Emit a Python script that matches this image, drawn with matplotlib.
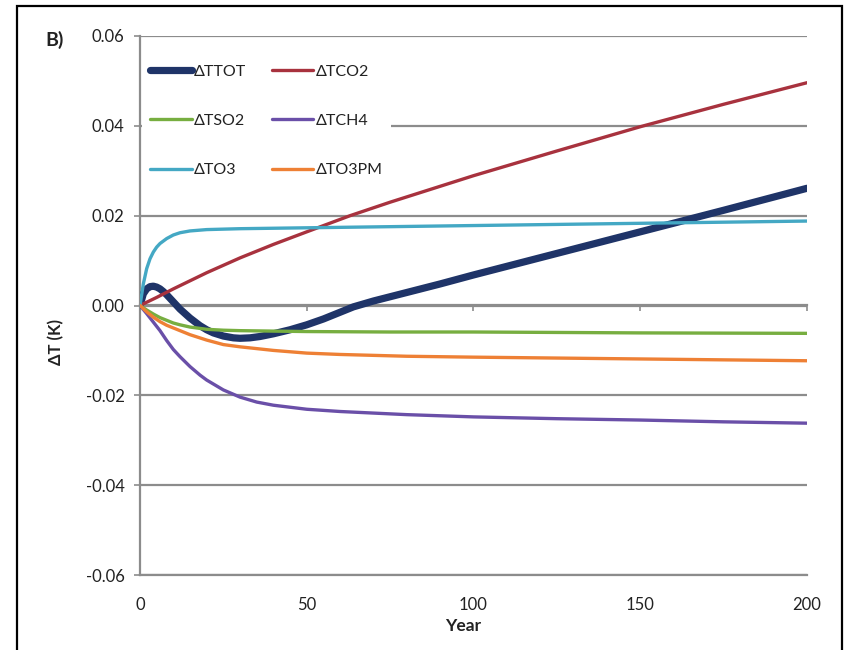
import matplotlib
matplotlib.use("Agg")
import matplotlib.pyplot as plt
from matplotlib.patches import Rectangle

plt.rcParams['font.family'] = ['Lato', 'DejaVu Sans']

# ---------------- data ----------------
yr_ttot = [0, 1, 2, 3, 4, 5, 6, 7, 8, 10, 12, 15, 18, 20, 22, 25, 28, 30, 33, 36,
           40, 45, 50, 55, 60, 64, 70, 80, 90, 100, 125, 150, 175, 200]
ttot = [0.0, 0.0026, 0.0037, 0.0042, 0.0043, 0.0041, 0.0037, 0.0031, 0.0024, 0.0008,
        -0.0008, -0.0028, -0.0045, -0.0054, -0.0061, -0.0068, -0.0072, -0.0073, -0.0072,
        -0.0069, -0.0063, -0.0054, -0.0043, -0.0030, -0.0015, -0.0003, 0.0010, 0.0029,
        0.0048, 0.0068, 0.0116, 0.0164, 0.0212, 0.0261]

yr_co2 = [0, 5, 10, 20, 30, 40, 50, 63, 75, 100, 125, 150, 175, 200]
co2 = [0.0, 0.0018, 0.0037, 0.0073, 0.0106, 0.0136, 0.0164, 0.0200, 0.0230, 0.0289,
       0.0344, 0.0398, 0.0448, 0.0496]

yr_so2 = [0, 2, 4, 6, 8, 10, 12, 15, 20, 25, 30, 40, 50, 75, 100, 150, 200]
so2 = [0.0, -0.0010, -0.0019, -0.0027, -0.0033, -0.0039, -0.0043, -0.0048, -0.0053,
       -0.0055, -0.0056, -0.0057, -0.0058, -0.0059, -0.0059, -0.0061, -0.0062]

yr_ch4 = [0, 2, 4, 6, 8, 10, 12, 15, 18, 20, 25, 30, 35, 40, 50, 60, 80, 100, 125,
          150, 175, 200]
ch4 = [0.0, -0.0018, -0.0037, -0.0056, -0.0078, -0.0098, -0.0114, -0.0136, -0.0155,
       -0.0166, -0.0188, -0.0204, -0.0215, -0.0222, -0.0231, -0.0236, -0.0243, -0.0248,
       -0.0252, -0.0255, -0.0259, -0.0262]

yr_o3 = [0, 1, 2, 3, 4, 5, 6, 8, 10, 12, 15, 20, 30, 50, 100, 150, 200]
o3 = [0.0, 0.0048, 0.0082, 0.0104, 0.0119, 0.0130, 0.0138, 0.0149, 0.0157, 0.0162,
      0.0166, 0.0169, 0.0171, 0.0173, 0.0178, 0.0183, 0.0188]

yr_o3pm = [0, 2, 4, 6, 8, 10, 15, 20, 25, 30, 40, 50, 60, 80, 100, 150, 200]
o3pm = [0.0, -0.0014, -0.0026, -0.0036, -0.0044, -0.0050, -0.0065, -0.0077, -0.0087,
        -0.0092, -0.0100, -0.0106, -0.0109, -0.0113, -0.0115, -0.0119, -0.0123]

labels = ["\u0394TTOT", "\u0394TCO2", "\u0394TSO2", "\u0394TCH4", "\u0394TO3", "\u0394TO3PM"]
colors = ["#1F3468", "#A8323E", "#77AE40", "#6A4FA8", "#44A8C4", "#EE8035"]

xticks = [0, 50, 100, 150, 200]
yticks = [-0.06, -0.04, -0.02, 0.0, 0.02, 0.04, 0.06]
ytick_labels = ["-0.06", "-0.04", "-0.02", "0.00", "0.02", "0.04", "0.06"]

# ---------------- figure ----------------
W, H = 845, 650
fig = plt.figure(figsize=(W / 100, H / 100), dpi=100)
ax = fig.add_axes([140 / W, 1 - 575 / H, 667 / W, 539 / H])

grid_c = "#8C8C8C"
txt_c = "#222222"
series = [(yr_ttot, ttot), (yr_co2, co2), (yr_so2, so2), (yr_ch4, ch4),
          (yr_o3, o3), (yr_o3pm, o3pm)]
lines = []
for i, ((xs, ys), lab, col) in enumerate(zip(series, labels, colors)):
    lw = 5.2 if i == 0 else 2.4
    ln, = ax.plot(xs, ys, color=col, lw=lw, label=lab, solid_capstyle='round',
                  solid_joinstyle='round', zorder=3 + i)
    lines.append(ln)

ax.set_xlim(0, 200)
ax.set_ylim(-0.06, 0.06)
ax.set_yticks(yticks)
ax.set_yticklabels(ytick_labels)
ax.set_xticks(xticks)
ax.set_xticklabels([str(v) for v in xticks])

ax.yaxis.grid(True, color=grid_c, lw=1.6, zorder=1)
ax.set_axisbelow(True)
for s in ["top", "right"]:
    ax.spines[s].set_visible(False)
ax.spines["left"].set_color(grid_c)
ax.spines["left"].set_linewidth(1.6)
ax.spines["bottom"].set_color(grid_c)
ax.spines["bottom"].set_linewidth(1.6)

ax.tick_params(axis='y', length=4, width=1.2, color=grid_c, pad=7,
               labelsize=12, labelcolor=txt_c)
ax.tick_params(axis='x', length=0, pad=16, labelsize=12, labelcolor=txt_c)

# tick marks on the zero line (horizontal axis crossing at 0)
sec = ax.secondary_xaxis(0.5)
sec.set_xticks(xticks)
sec.set_xticklabels([])
sec.tick_params(axis='x', direction='in', length=4, width=1.2, color=grid_c,
                labeltop=False, labelbottom=False)
for sp in sec.spines.values():
    sp.set_color(grid_c)
    sp.set_linewidth(1.6)

ax.set_xlabel("Year", fontsize=12.5, fontweight='bold', color=txt_c)
ax.xaxis.set_label_coords((463 - 140) / 667, (575 - 618) / 539)
ax.set_ylabel("\u0394T (K)", fontsize=12, fontweight='bold', color=txt_c)
ax.yaxis.set_label_coords((64 - 140) / 667, (575 - 342) / 539)

# legend: Excel order row-wise -> column-major for matplotlib
order = [0, 2, 4, 1, 3, 5]
leg = ax.legend([lines[i] for i in order], [labels[i] for i in order], ncol=2,
                loc='upper left', bbox_to_anchor=(0.003, 0.962), frameon=True,
                fontsize=11.5, handlelength=2.6, handletextpad=0.15,
                columnspacing=1.6, labelspacing=2.2, borderpad=0.5,
                borderaxespad=0.0, fancybox=False)
for t in leg.get_texts():
    t.set_color(txt_c)
leg.get_frame().set_facecolor("white")
leg.get_frame().set_edgecolor("none")
leg.get_frame().set_alpha(1.0)
leg.set_zorder(20)

fig.text(45 / W, 1 - 40 / H, "B)", fontsize=14, fontweight='bold', va='center',
         ha='left', color=txt_c)

# outer black frame
fig.patches.append(Rectangle((17 / W, -0.02), (842 - 17) / W, 1.02 - 6 / H,
                             transform=fig.transFigure, fill=False, edgecolor='black',
                             lw=1.6, clip_on=False))

fig.savefig("out.png", dpi=100)
